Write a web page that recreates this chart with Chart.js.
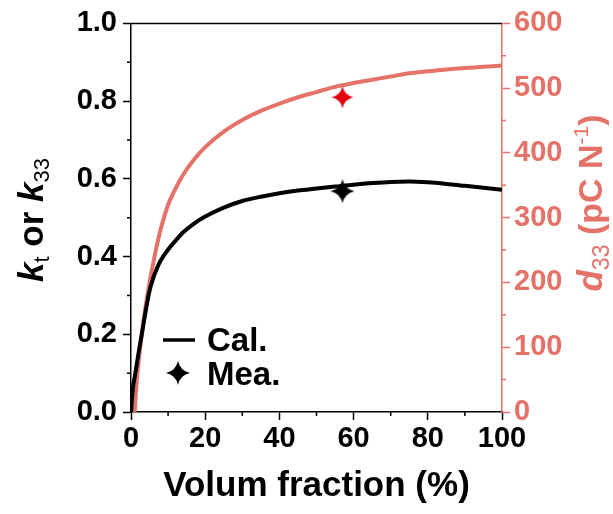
<!DOCTYPE html>
<html>
<head>
<meta charset="utf-8">
<script src="https://cdn.jsdelivr.net/npm/chart.js@4.4.1/dist/chart.umd.min.js"></script>
<style>
  html, body { margin: 0; padding: 0; background: #fff; }
  #wrap { width: 613px; height: 514px; }
</style>
</head>
<body>
<div id="wrap"><canvas id="couplingChart" width="613" height="514"></canvas></div>
<script>
/******** data ******************************* */
const fraction = [0, 0.5, 1, 1.5, 2, 3, 4, 5, 6, 7, 8, 10, 12, 14, 17, 20, 25, 30, 35, 40, 45, 50, 55, 60, 65, 70, 75, 80, 85, 90, 95, 100];
const kCal = [0, 0.06, 0.09, 0.12, 0.15, 0.205, 0.262, 0.312, 0.345, 0.37, 0.39, 0.418, 0.441, 0.462, 0.485, 0.503, 0.526, 0.543, 0.554, 0.563, 0.57, 0.575, 0.58, 0.585, 0.589, 0.592, 0.593, 0.591, 0.587, 0.582, 0.577, 0.572];
const d33Cal = [null, null, 0, 45, 75, 125, 165, 200, 230, 258, 282, 320, 345, 366, 390, 409, 433, 451, 465, 476, 486, 494, 502, 508, 513, 518, 523, 526, 529, 531, 533, 535];
const measFraction = [57];
const kMea = [0.568];
const d33Mea = [486];

const xTicks = [0, 20, 40, 60, 80, 100];
const legendLabels = ["Cal.", "Mea."];

const BLACK = "#000000";
const SALMON = "rgb(228,114,104)";
const STAR_RED = "#e3000f";
const FONT = "'Liberation Sans', Arial, sans-serif";

// 4-pointed star used for the measured points
function makeStar(color, w, h) {
    const c = document.createElement("canvas");
    c.width = w;
    c.height = h;
    const g = c.getContext("2d");
    const cx = w / 2, cy = h / 2, k = 0.18;
    g.fillStyle = color;
    g.beginPath();
    g.moveTo(cx, 0);
    g.quadraticCurveTo(cx + w * k * 0.5, cy - h * k * 0.5, w, cy);
    g.quadraticCurveTo(cx + w * k * 0.5, cy + h * k * 0.5, cx, h);
    g.quadraticCurveTo(cx - w * k * 0.5, cy + h * k * 0.5, 0, cy);
    g.quadraticCurveTo(cx - w * k * 0.5, cy - h * k * 0.5, cx, 0);
    g.fill();
    return c;
}
const redStar = makeStar(STAR_RED, 22, 22);
const blackStar = makeStar(BLACK, 24, 24);

const pts = (xs, ys) => xs.map((x, i) => ({ x: x, y: ys[i] }));

// draw a run of text pieces (normal / sub / sup) centred on 0
function richText(ctx, parts) {
    let total = 0;
    parts.forEach(p => { ctx.font = p.font; total += ctx.measureText(p.text).width; });
    let u = -total / 2;
    parts.forEach(p => {
        ctx.font = p.font;
        ctx.fillText(p.text, u, p.dy || 0);
        u += ctx.measureText(p.text).width;
    });
}

const decorPlugin = {
    id: "decor",
    afterDraw(chart) {
        const ctx = chart.ctx;
        const a = chart.chartArea;
        const sx = chart.scales.x, sy = chart.scales.y, sy1 = chart.scales.y1;
        ctx.save();
        // top frame line
        ctx.strokeStyle = BLACK;
        ctx.lineWidth = 1.5;
        ctx.beginPath();
        ctx.moveTo(a.left, a.top);
        ctx.lineTo(a.right, a.top);
        ctx.stroke();
        // minor ticks
        ctx.beginPath();
        for (let v = 10; v < 100; v += 20) {
            const px = sx.getPixelForValue(v);
            ctx.moveTo(px, a.bottom);
            ctx.lineTo(px, a.bottom + 4);
        }
        for (let v = 0.1; v < 1; v += 0.2) {
            const py = sy.getPixelForValue(v);
            ctx.moveTo(a.left, py);
            ctx.lineTo(a.left - 4, py);
        }
        ctx.stroke();
        ctx.strokeStyle = SALMON;
        ctx.beginPath();
        for (let v = 50; v < 600; v += 100) {
            const py = sy1.getPixelForValue(v);
            ctx.moveTo(a.right, py);
            ctx.lineTo(a.right + 4, py);
        }
        ctx.stroke();

        // left axis title: k_t or k_33
        ctx.textBaseline = "alphabetic";
        ctx.fillStyle = BLACK;
        ctx.save();
        ctx.translate(43, 220);
        ctx.rotate(-Math.PI / 2);
        richText(ctx, [
            { text: "k", font: "italic bold 35px " + FONT },
            { text: "t", font: "22px " + FONT, dy: 6 },
            { text: " or ", font: "bold 35px " + FONT },
            { text: "k", font: "italic bold 35px " + FONT },
            { text: "33", font: "22px " + FONT, dy: 6 },
        ]);
        ctx.restore();

        // right axis title: d33 (pC N-1)
        ctx.fillStyle = SALMON;
        ctx.save();
        ctx.translate(602, 203);
        ctx.rotate(-Math.PI / 2);
        richText(ctx, [
            { text: "d", font: "italic bold 35px " + FONT },
            { text: "33", font: "23px " + FONT, dy: 7 },
            { text: " (pC N", font: "bold 34px " + FONT },
            { text: "-1", font: "21px " + FONT, dy: -14 },
            { text: ")", font: "bold 34px " + FONT },
        ]);
        ctx.restore();

        // legend
        ctx.strokeStyle = BLACK;
        ctx.lineWidth = 3.5;
        ctx.beginPath();
        ctx.moveTo(163, 340);
        ctx.lineTo(195, 340);
        ctx.stroke();
        ctx.drawImage(blackStar, 178 - 12, 373 - 12);
        ctx.fillStyle = BLACK;
        ctx.font = "bold 33px " + FONT;
        ctx.textAlign = "left";
        ctx.fillText(legendLabels[0], 207, 351);
        ctx.fillText(legendLabels[1], 207, 385);
        ctx.restore();
    },
};

const ctx = document.getElementById("couplingChart").getContext("2d");
const chart = new Chart(ctx, {
    type: "line",
    data: {
        datasets: [
            {
                label: "d33 Cal.",
                data: pts(fraction, d33Cal),
                yAxisID: "y1",
                borderColor: SALMON,
                borderWidth: 4,
                pointRadius: 0,
                cubicInterpolationMode: "monotone",
                order: 2,
            },
            {
                label: "k Cal.",
                data: pts(fraction, kCal),
                yAxisID: "y",
                borderColor: BLACK,
                borderWidth: 4,
                pointRadius: 0,
                cubicInterpolationMode: "monotone",
                order: 1,
            },
            {
                label: "d33 Mea.",
                data: pts(measFraction, d33Mea),
                yAxisID: "y1",
                showLine: false,
                pointStyle: redStar,
                order: 0,
            },
            {
                label: "k Mea.",
                data: pts(measFraction, kMea),
                yAxisID: "y",
                showLine: false,
                pointStyle: blackStar,
                order: 0,
            },
        ],
    },
    options: {
        responsive: false,
        animation: false,
        layout: { padding: { top: 21, left: 0, right: 0, bottom: 0 } },
        plugins: {
            legend: { display: false },
            tooltip: { enabled: false },
        },
        scales: {
            x: {
                type: "linear",
                min: 0,
                max: 100,
                afterBuildTicks: (s) => { s.ticks = xTicks.map(v => ({ value: v })); },
                afterFit: (s) => { s.height = 102; },
                border: { color: BLACK, width: 1.5 },
                grid: { drawOnChartArea: false, tickLength: 8, tickColor: BLACK, tickWidth: 1.5 },
                ticks: {
                    color: BLACK,
                    padding: 2,
                    font: { family: FONT, size: 29, weight: "bold" },
                },
                title: {
                    display: true,
                    text: "Volum fraction (%)",
                    color: BLACK,
                    font: { family: FONT, size: 35, weight: "bold" },
                    padding: { top: 0, bottom: 7 },
                },
            },
            y: {
                position: "left",
                min: 0,
                max: 1,
                afterFit: (s) => { s.width = 131; },
                border: { color: BLACK, width: 1.5 },
                grid: { drawOnChartArea: false, tickLength: 8, tickColor: BLACK, tickWidth: 1.5 },
                ticks: {
                    stepSize: 0.2,
                    color: BLACK,
                    padding: 6,
                    font: { family: FONT, size: 29, weight: "bold" },
                    callback: (v) => v.toFixed(1),
                },
            },
            y1: {
                position: "right",
                min: 0,
                max: 600,
                afterFit: (s) => { s.width = 111; },
                border: { color: SALMON, width: 1.5 },
                grid: { drawOnChartArea: false, tickLength: 8, tickColor: SALMON, tickWidth: 1.5 },
                ticks: {
                    stepSize: 100,
                    color: SALMON,
                    padding: 4,
                    font: { family: FONT, size: 29, weight: "bold" },
                },
            },
        },
    },
    plugins: [decorPlugin],
});
</script>
</body>
</html>
